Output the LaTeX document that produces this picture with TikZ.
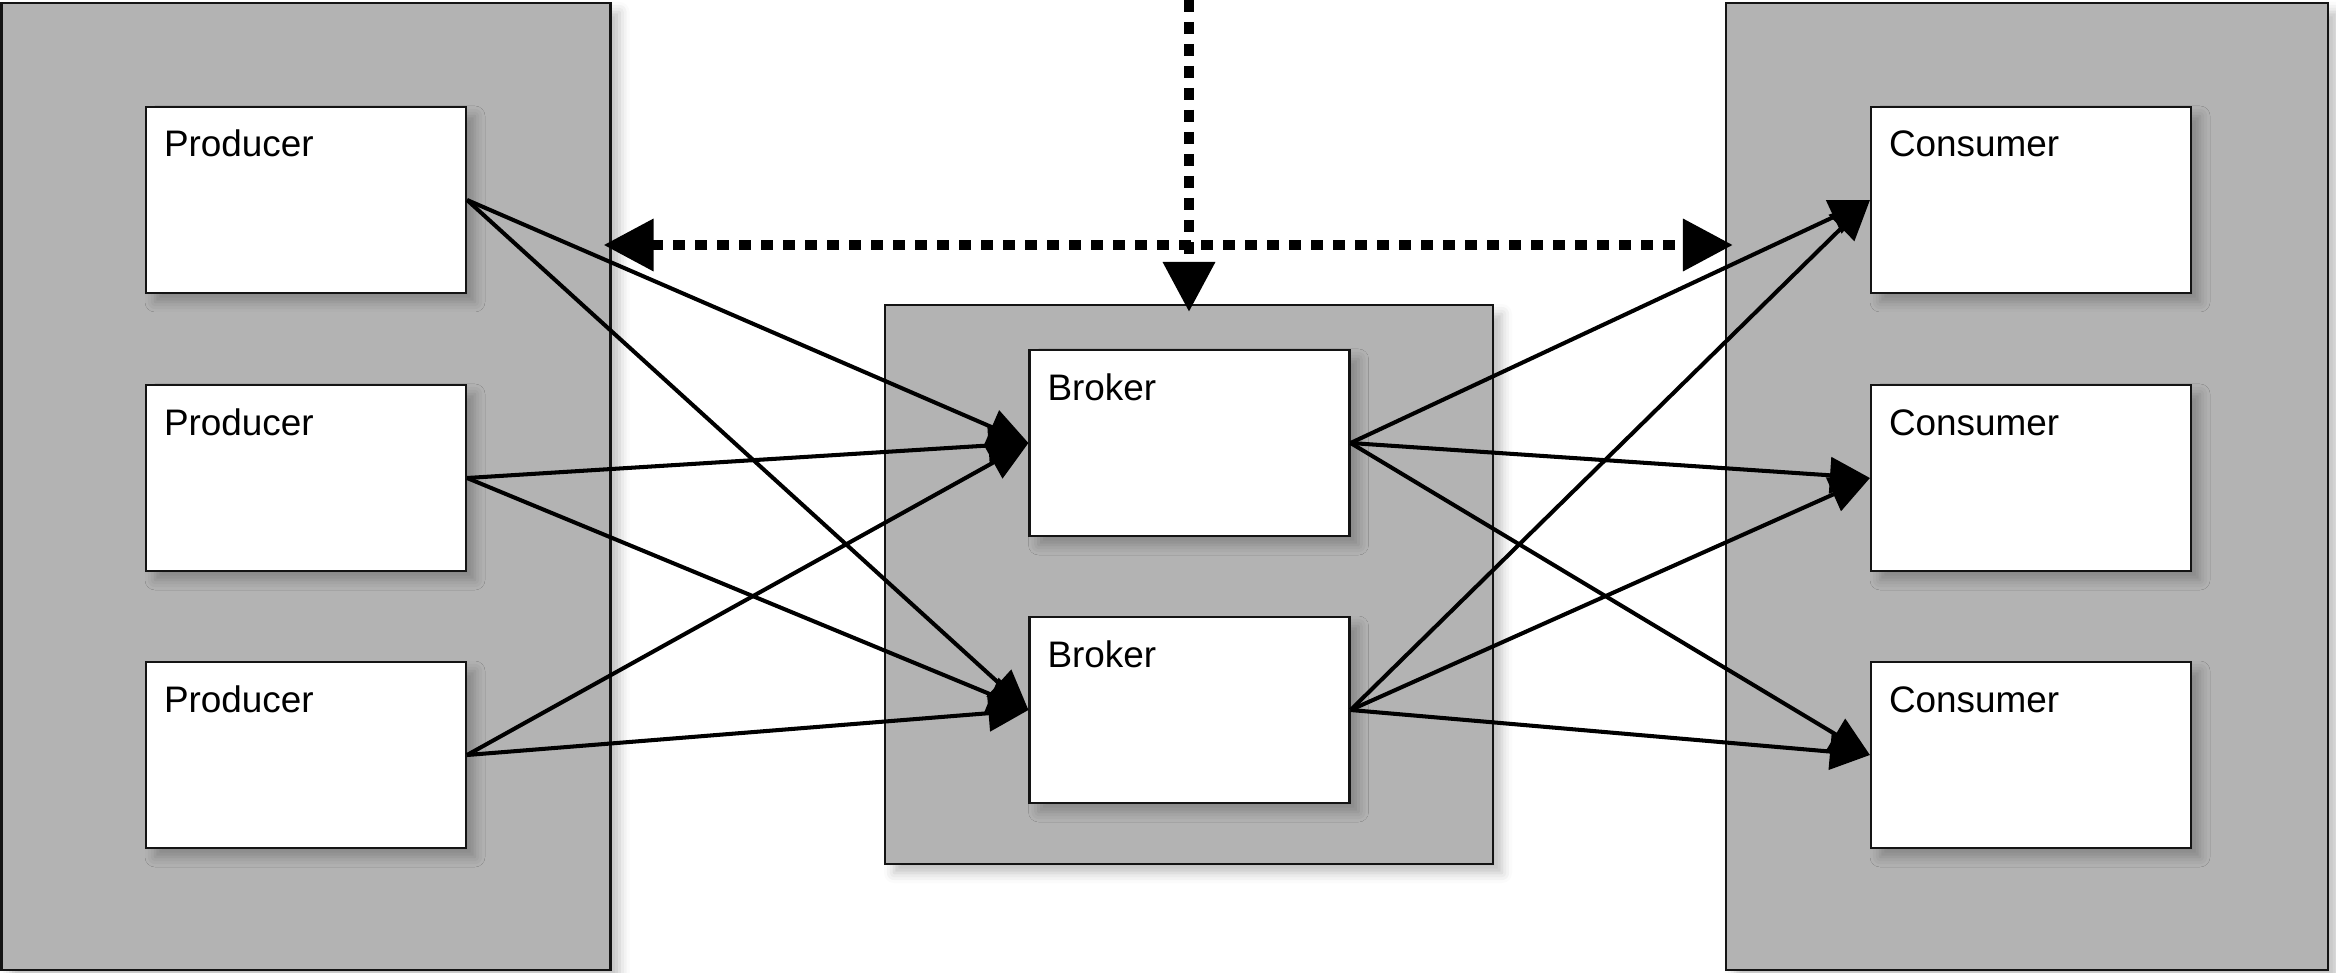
\documentclass[tikz,border=0pt]{standalone}
\usepackage{fontspec}
\setmainfont{Liberation Sans}
\usepackage{tikz}
\usetikzlibrary{shapes,arrows,positioning,calc,shadows,shadows.blur,arrows.meta}
\definecolor{groupgray}{RGB}{179,179,179}
\definecolor{edgecolor}{RGB}{20,20,20}

\begin{document}
\begin{tikzpicture}[
    softshadow/.style={blur shadow={shadow xshift=0.09cm, shadow yshift=-0.09cm, shadow blur radius=0.1cm, shadow opacity=25}},
    group/.style={rectangle, draw=edgecolor, line width=0.6pt, fill=groupgray, softshadow, inner sep=0pt},
    box/.style={rectangle, draw=edgecolor, line width=0.6pt, fill=white, softshadow, inner xsep=0.18cm, inner ysep=0pt,
        text width=2.84cm, align=left, text height=0.5cm, text depth=1.36cm, font=\fontsize{10.5}{12}\selectfont},
    flow/.style={-{Triangle[length=0.4cm, width=0.36cm]}, line width=1.15pt, black},
    bus/.style={line width=2.85pt, dash pattern=on 0.12cm off 0.1cm, black, shorten >=-0.08cm, shorten <=-0.08cm}
]
\useasboundingbox (0,0) rectangle (23.36,9.72);

% Groups
\node[group, minimum width=6.09cm, minimum height=9.67cm] (prodgroup) at (3.06, 4.855) {};
\node[group, minimum width=6.08cm, minimum height=5.59cm] (brkgroup) at (11.89, 3.875) {};
\node[group, minimum width=6.02cm, minimum height=9.67cm] (consgroup) at (20.27, 4.855) {};

% Producers
\node[box] (prod1) at (3.06, 7.72) {Producer};
\node[box] (prod2) at (3.06, 4.94) {Producer};
\node[box] (prod3) at (3.06, 2.17) {Producer};

% Brokers
\node[box] (brk1) at (11.895, 5.29) {Broker};
\node[box] (brk2) at (11.895, 2.62) {Broker};

% Consumers
\node[box] (cons1) at (20.31, 7.72) {Consumer};
\node[box] (cons2) at (20.31, 4.94) {Consumer};
\node[box] (cons3) at (20.31, 2.17) {Consumer};

% Producer -> Broker
\draw[flow] (prod1.east) -- (brk1.west);
\draw[flow] (prod1.east) -- (brk2.west);
\draw[flow] (prod2.east) -- (brk1.west);
\draw[flow] (prod2.east) -- (brk2.west);
\draw[flow] (prod3.east) -- (brk1.west);
\draw[flow] (prod3.east) -- (brk2.west);

% Broker -> Consumer
\draw[flow] (brk1.east) -- (cons1.west);
\draw[flow] (brk1.east) -- (cons2.west);
\draw[flow] (brk1.east) -- (cons3.west);
\draw[flow] (brk2.east) -- (cons1.west);
\draw[flow] (brk2.east) -- (cons2.west);
\draw[flow] (brk2.east) -- (cons3.west);

% Dotted links
\coordinate (busmid) at (11.89, 7.27);
\coordinate (feed) at (11.89, 9.72);
\draw[bus, {Triangle[length=0.5cm, width=0.5cm]}-{Triangle[length=0.5cm, width=0.5cm]}] (busmid -| prodgroup.east) -- (busmid -| consgroup.west);
\draw[bus, shorten <=0pt, -{Triangle[length=0.5cm, width=0.5cm]}] (feed) -- (brkgroup.north);

\end{tikzpicture}
\end{document}
